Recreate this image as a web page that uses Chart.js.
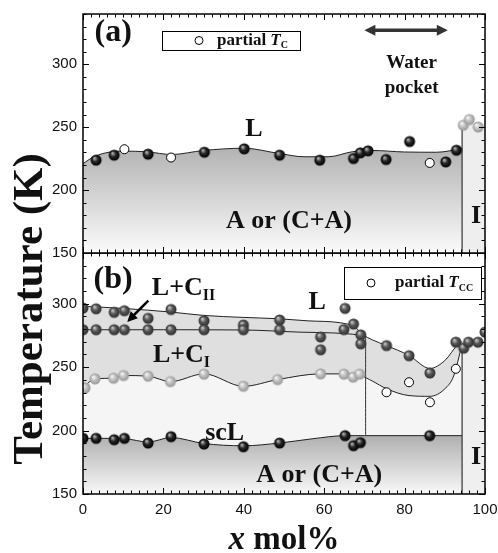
<!DOCTYPE html>
<html>
<head>
<meta charset="utf-8">
<script src="https://cdn.jsdelivr.net/npm/chart.js@4.4.1/dist/chart.umd.min.js"></script>
<style>
html, body { margin: 0; padding: 0; background: #fff; }
#wrap { position: relative; width: 498px; height: 553px; overflow: hidden; }
canvas { position: absolute; left: 0; top: 0; }
</style>
</head>
<body>
<div id="wrap">
<canvas id="chartB" width="498" height="553"></canvas>
<canvas id="chartA" width="498" height="280"></canvas>
</div>
<script>
// ---------- panel (a) ----------
const aDarkX = [3.25, 7.75, 16.2, 30.2, 40.1, 48.9, 58.9, 67.3, 69, 70.9, 75.4, 81.25, 90.25, 92.9];
const aDarkT = [223.8, 227.8, 228.6, 230.1, 232.8, 227.8, 223.8, 225.1, 229.6, 231.2, 224.3, 238.6, 222.4, 231.7];
const aOpenX = [10.3, 21.9, 86.25];
const aOpenT = [232.5, 225.9, 221.6];
const aIceX = [94.6, 96.1, 98.3];
const aIceT = [251.6, 256.1, 250.2];
// guide line through the melting points
const aLineX = [0, 3, 10, 16, 22, 30, 40, 49, 55, 61, 67, 72, 80, 88, 94.3];
const aLineT = [221, 227, 231, 230.4, 228.3, 231.5, 233.3, 229, 226.5, 226.5, 230.5, 231.5, 230.3, 230.1, 233];
const aIceTop = 252.5;
const iceEdgeX = 94.3;

// ---------- panel (b) ----------
const bMidX = [0, 3.25, 7.75, 10.3, 16.2, 21.9, 30.1, 39.9, 48.9, 65.2, 67.3,
               0, 3.25, 7.75, 10.3, 16.2, 21.9, 30.1, 39.9, 48.9, 59.1, 59.1, 64.9, 69.1, 69.1,
               75.5, 81.1, 86.3, 92.75, 94.7, 95.9, 98.25, 100];
const bMidT = [296.6, 296, 293.2, 294.5, 288.5, 295.5, 286.5, 283.2, 287.2, 296.3, 284,
               279.5, 279.5, 279.5, 279.5, 279.5, 279.5, 279.5, 279.5, 279.5, 273.8, 263.7, 279.6, 275.5, 268.4,
               267, 259, 245.4, 269.7, 265, 269.7, 269.7, 277.6];
const bLightX = [0.5, 3, 7.6, 10.1, 16.2, 21.75, 30.1, 39.9, 48.4, 59.1, 64.9, 67.2, 68.8];
const bLightT = [233.6, 240.8, 241.3, 243.4, 242.9, 238.6, 244.5, 234.9, 240.2, 244.7, 244.5, 242.1, 244.5];
const bOpenX = [75.5, 81.1, 86.3, 92.75];
const bOpenT = [230.2, 238.1, 222.3, 248.7];
const bDarkX = [0, 3.25, 7.75, 10.3, 16.2, 21.9, 30.1, 39.9, 48.9, 65.2, 67.3, 69, 86.25];
const bDarkT = [193.9, 193.9, 192.8, 193.9, 190.2, 195.2, 189.4, 187.3, 190.2, 196, 188.1, 190.5, 196];

const bTopLineX = [0, 10, 22, 30, 40, 48.4, 56, 64, 67.6, 69.7, 72, 75.5, 81.1, 86.3, 90, 93.4, 94.3];
const bTopLineT = [298, 296.3, 293.4, 290.8, 289.2, 288.2, 286.5, 285, 281.6, 275.5, 271.5, 267, 259.2, 249, 255.2, 268.4, 270];
const bMidLineX = [0, 20, 40, 54, 62, 67, 70.3];
const bMidLineT = [279.5, 279.5, 279.3, 277.6, 277, 276, 274.5];
const bLowLineX = [0, 3, 7.6, 10.1, 16.2, 21.75, 30.1, 39.9, 48.4, 59.1, 65, 69, 72, 75.5, 81.1, 86.3, 90, 92.2, 94.3];
const bLowLineT = [234, 240.8, 241.3, 243.4, 242.9, 238.6, 244.7, 234.9, 240.2, 244.7, 244.7, 243.5, 239, 233, 227.6, 227, 232.9, 243, 268];
const bScLineX = [0, 3.25, 10.3, 16.2, 21.9, 30.1, 39.9, 48.9, 57, 65.2, 70, 94.3];
const bScLineT = [193.9, 193.9, 193.6, 191, 194.5, 189.8, 188, 190.2, 193.5, 196, 196, 196];
const bStepX = 70.3;
const bIceTop = 270;

// axes
const xMin = 0, xMax = 100, xStep = 20, xMinor = 2;
const tMin = 150, tMax = 340, tStep = 50, tMinor = 10;

const SERIF = '"Liberation Serif", "Times New Roman", serif';
const SANS = '"Liberation Sans", Arial, sans-serif';
const bold = s => `bold ${s}px ${SERIF}`;
const boldIt = s => `italic bold ${s}px ${SERIF}`;

const pts = (xs, ys) => xs.map((x, i) => ({ x, y: ys[i] }));

// little shaded balls for the markers
function sphere(r, hi, mid, edge) {
    const c = document.createElement('canvas');
    const s = 2 * Math.ceil(r) + 2;
    c.width = c.height = s;
    const g = c.getContext('2d');
    const cx = s / 2, cy = s / 2;
    const grad = g.createRadialGradient(cx - r * 0.35, cy - r * 0.4, 0, cx, cy, r);
    grad.addColorStop(0, hi);
    grad.addColorStop(0.5, mid);
    grad.addColorStop(1, edge);
    g.fillStyle = grad;
    g.beginPath();
    g.arc(cx, cy, r, 0, Math.PI * 2);
    g.fill();
    return c;
}
const darkBall = sphere(5.5, '#d0d0d0', '#262626', '#000');
const midBall = sphere(5.5, '#dcdcdc', '#585858', '#2e2e2e');
const lightBall = sphere(5.5, '#ffffff', '#c2c2c2', '#969696');

const balls = (data, img) => ({ data, pointStyle: img, pointRadius: 5.5, showLine: false });
const rings = data => ({ data, pointStyle: 'circle', pointRadius: 4.5, pointBackgroundColor: '#fff',
    pointBorderColor: '#000', pointBorderWidth: 1, showLine: false });
const curve = (data, extra) => Object.assign({ type: 'line', data, borderColor: '#222', borderWidth: 1,
    pointRadius: 0, cubicInterpolationMode: 'monotone', fill: false }, extra);

// vertical gradient from a temperature down to the axis floor
const shade = (top, c1, c2) => (c) => {
    const chart = c.chart;
    if (!chart.chartArea) return c1;
    const y = chart.scales.y;
    const g = chart.ctx.createLinearGradient(0, y.getPixelForValue(top), 0, y.getPixelForValue(tMin));
    g.addColorStop(0, c1);
    g.addColorStop(1, c2);
    return g;
};

function rich(ctx, parts, cx, cy) {
    let w = 0;
    parts.forEach(p => { ctx.font = p[1]; w += ctx.measureText(p[0]).width; });
    let x = cx - w / 2;
    ctx.textAlign = 'left';
    parts.forEach(p => {
        ctx.font = p[1];
        ctx.fillText(p[0], x, cy + (p[2] || 0));
        x += ctx.measureText(p[0]).width;
    });
}

function arrow(ctx, x1, y1, x2, y2, both, lw, head, half) {
    const a = Math.atan2(y2 - y1, x2 - x1);
    const tip = (x, y, ang) => {
        ctx.beginPath();
        ctx.moveTo(x, y);
        ctx.lineTo(x - head * Math.cos(ang) + half * Math.sin(ang), y - head * Math.sin(ang) - half * Math.cos(ang));
        ctx.lineTo(x - head * Math.cos(ang) - half * Math.sin(ang), y - head * Math.sin(ang) + half * Math.cos(ang));
        ctx.closePath();
        ctx.fill();
    };
    ctx.lineWidth = lw;
    ctx.beginPath();
    ctx.moveTo(x1 + (both ? head * 0.8 * Math.cos(a) : 0), y1 + (both ? head * 0.8 * Math.sin(a) : 0));
    ctx.lineTo(x2 - head * 0.8 * Math.cos(a), y2 - head * 0.8 * Math.sin(a));
    ctx.stroke();
    tip(x2, y2, a);
    if (both) tip(x1, y1, a + Math.PI);
}

function legendBox(ctx, l, t, w, h, cx, tx, sub) {
    const cy = t + h / 2;
    ctx.fillStyle = '#fff';
    ctx.fillRect(l, t, w, h);
    ctx.strokeStyle = '#000';
    ctx.lineWidth = 1;
    ctx.strokeRect(l + 0.5, t + 0.5, w, h);
    ctx.beginPath();
    ctx.arc(cx, cy, 4, 0, Math.PI * 2);
    ctx.stroke();
    ctx.fillStyle = '#111';
    ctx.textBaseline = 'middle';
    ctx.textAlign = 'left';
    let x = tx;
    [['partial ', bold(17), 0], ['T', boldIt(17), 0], [sub, bold(10), 5]].forEach(p => {
        ctx.font = p[1];
        ctx.fillText(p[0], x, cy + p[2]);
        x += ctx.measureText(p[0]).width;
    });
}

// frame with inward ticks on all four sides
const frameTicks = {
    id: 'frameTicks',
    afterDatasetsDraw(chart) {
        const { ctx, chartArea: a, scales: { x, y } } = chart;
        ctx.save();
        ctx.strokeStyle = '#000';
        ctx.lineWidth = 1;
        ctx.beginPath();
        for (let v = xMin; v <= xMax; v += xMinor) {
            const px = Math.round(x.getPixelForValue(v)) + 0.5;
            const len = v % xStep === 0 ? 6 : 3.5;
            ctx.moveTo(px, a.top); ctx.lineTo(px, a.top + len);
            ctx.moveTo(px, a.bottom); ctx.lineTo(px, a.bottom - len);
        }
        for (let v = tMin; v <= tMax; v += tMinor) {
            const py = Math.round(y.getPixelForValue(v)) + 0.5;
            const len = v % tStep === 0 ? 6 : 3.5;
            ctx.moveTo(a.left, py); ctx.lineTo(a.left + len, py);
            ctx.moveTo(a.right, py); ctx.lineTo(a.right - len, py);
        }
        ctx.stroke();
        ctx.lineWidth = 1.5;
        ctx.strokeRect(a.left, a.top, a.right - a.left, a.bottom - a.top);
        ctx.restore();
    }
};

const panelText = (labels, extra) => ({
    id: 'panelText',
    afterDraw(chart) {
        const { ctx, scales: { x, y } } = chart;
        ctx.save();
        ctx.fillStyle = '#111';
        ctx.strokeStyle = '#222';
        ctx.textBaseline = 'middle';
        labels.forEach(l => rich(ctx, l.parts, x.getPixelForValue(l.x), y.getPixelForValue(l.y)));
        extra(ctx, x, y);
        ctx.restore();
    }
});

function makeScales(showX) {
    return {
        x: {
            type: 'linear', min: xMin, max: xMax, display: showX,
            grid: { display: false, drawTicks: false }, border: { display: false },
            ticks: { stepSize: xStep, color: '#111', font: { family: SANS, size: 15 }, padding: 7, maxRotation: 0 },
            afterFit: s => { if (showX) { s.height = 59; } s.paddingLeft = 0; s.paddingRight = 0; }
        },
        y: {
            type: 'linear', min: tMin, max: tMax,
            grid: { display: false, drawTicks: false }, border: { display: false },
            ticks: { stepSize: tStep, color: '#111', font: { family: SANS, size: 15 }, padding: 6 },
            afterBuildTicks: s => { s.ticks = s.ticks.filter(t => t.value % tStep === 0); },
            afterFit: s => { s.width = 83; s.paddingTop = 0; s.paddingBottom = 0; }
        }
    };
}

const common = {
    responsive: false,
    animation: false,
    events: [],
    plugins: { legend: { display: false }, tooltip: { enabled: false } }
};

const aLabels = [
    { x: 7.5, y: 325, parts: [['(a)', bold(32)]] },
    { x: 42.5, y: 248.5, parts: [['L', bold(26)]] },
    { x: 51.25, y: 175.5, parts: [['A or (C+A)', bold(26)]] },
    { x: 97.75, y: 179.5, parts: [['I', bold(26)]] },
    { x: 81.75, y: 301, parts: [['Water', bold(19)]] },
    { x: 81.75, y: 281, parts: [['pocket', bold(19)]] }
];

new Chart(document.getElementById('chartA'), {
    type: 'scatter',
    data: {
        datasets: [
            balls(pts(aDarkX, aDarkT), darkBall),
            rings(pts(aOpenX, aOpenT)),
            balls(pts(aIceX, aIceT), lightBall),
            curve(pts([iceEdgeX, iceEdgeX], [tMin, aIceTop]), { borderColor: '#333', borderWidth: 1.2 }),
            curve(pts(aLineX, aLineT), { fill: 'start', backgroundColor: shade(232, '#b4b4b4', '#fbfbfb') }),
            curve(pts([iceEdgeX, xMax], [aIceTop, aIceTop]), { fill: 'start', backgroundColor: '#eeeeee', borderWidth: 0 })
        ]
    },
    options: Object.assign({}, common, {
        layout: { padding: { top: 14, right: 13, bottom: 27, left: 0 } },
        scales: makeScales(false)
    }),
    plugins: [frameTicks, panelText(aLabels, (ctx, x, y) => {
        ctx.fillStyle = '#333';
        ctx.strokeStyle = '#333';
        arrow(ctx, x.getPixelForValue(70), y.getPixelForValue(327), x.getPixelForValue(90.75), y.getPixelForValue(327), true, 3.5, 11, 5.5);
        legendBox(ctx, 162, 31, 138, 19, 199, 217, 'C');
    })]
});

const bLabels = [
    { x: 7.5, y: 319, parts: [['(b)', bold(32)]] },
    { x: 25, y: 312.5, parts: [['L+C', bold(26)], ['II', bold(16), 8]] },
    { x: 24.5, y: 259.5, parts: [['L+C', bold(26)], ['I', bold(16), 8]] },
    { x: 35.25, y: 198, parts: [['scL', bold(26)]] },
    { x: 58.25, y: 301.5, parts: [['L', bold(26)]] },
    { x: 58.75, y: 164.5, parts: [['A or (C+A)', bold(26)]] },
    { x: 97.75, y: 179, parts: [['I', bold(26)]] }
];

new Chart(document.getElementById('chartB'), {
    type: 'scatter',
    data: {
        datasets: [
            balls(pts(bDarkX, bDarkT), darkBall),
            balls(pts(bMidX, bMidT), midBall),
            balls(pts(bLightX, bLightT), lightBall),
            rings(pts(bOpenX, bOpenT)),
            curve(pts([bStepX, bStepX], [196, 274.5]), { borderColor: '#333' }),
            curve(pts([iceEdgeX, iceEdgeX], [tMin, 268]), { borderColor: '#333', borderWidth: 1.2 }),
            curve(pts(bMidLineX, bMidLineT)),
            curve(pts(bScLineX, bScLineT), { fill: 'start', backgroundColor: shade(196, '#b0b0b0', '#f8f8f8') }),
            curve(pts(bLowLineX, bLowLineT), { fill: 'start', backgroundColor: '#f5f5f5' }),
            curve(pts(bTopLineX, bTopLineT), { fill: 'start', backgroundColor: '#dfdfdf' }),
            curve(pts([iceEdgeX, xMax], [bIceTop, bIceTop]), { fill: 'start', backgroundColor: '#efefef', borderWidth: 0 })
        ]
    },
    options: Object.assign({}, common, {
        layout: { padding: { top: 253, right: 13, bottom: 0, left: 0 } },
        scales: makeScales(true)
    }),
    plugins: [frameTicks, panelText(bLabels, (ctx, x, y) => {
        ctx.fillStyle = '#000';
        ctx.strokeStyle = '#000';
        arrow(ctx, x.getPixelForValue(16.25), y.getPixelForValue(302.4), x.getPixelForValue(11), y.getPixelForValue(285.7), false, 2.5, 10, 5);
        legendBox(ctx, 344, 267, 137, 32, 371, 395, 'CC');
        // axis titles
        ctx.fillStyle = '#111';
        ctx.textBaseline = 'alphabetic';
        const xt = [['x', boldIt(33)], [' mol%', bold(33)]];
        rich(ctx, xt, (x.left + x.right) / 2, 549);
        ctx.save();
        ctx.translate(42, 309);
        ctx.rotate(-Math.PI / 2);
        ctx.textAlign = 'center';
        ctx.font = bold(43);
        ctx.fillText('Temperature (K)', 0, 0);
        ctx.restore();
    })]
});
</script>
</body>
</html>
